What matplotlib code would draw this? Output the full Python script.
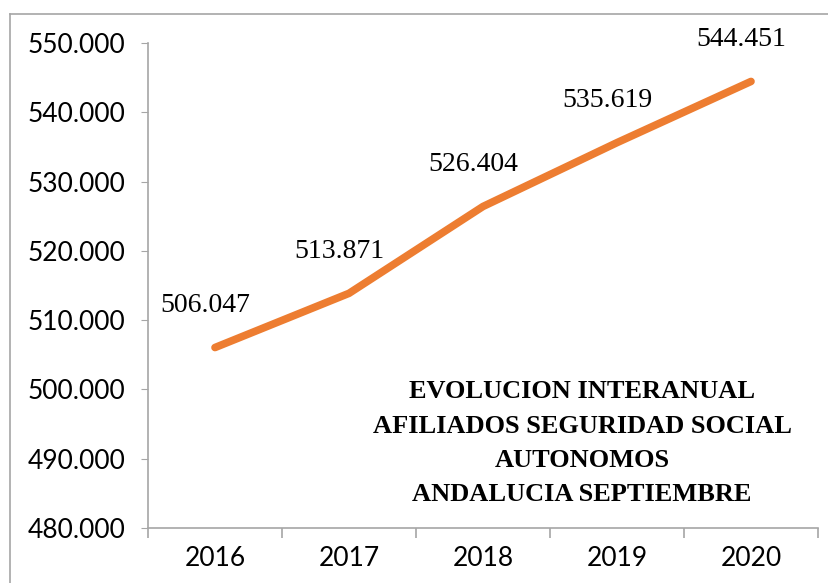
import matplotlib.pyplot as plt
from matplotlib.lines import Line2D
from matplotlib.ticker import FuncFormatter, FixedLocator

years = ['2016', '2017', '2018', '2019', '2020']
afiliados = [506047, 513871, 526404, 535619, 544451]

fig = plt.figure(figsize=(8.29, 5.83), dpi=100)
ax = fig.add_axes([148 / 829, 55 / 583, 670 / 829, 485 / 583])

x = list(range(len(years)))
ax.plot(x, afiliados, color='#ED7D31', lw=5.5, solid_capstyle='round')

# etiquetas de datos
for xi, v in zip(x, afiliados):
    txt = f'{v:,}'.replace(',', '.')
    ax.annotate(txt, (xi, v), xytext=(-7, 30), textcoords='offset points',
                ha='center', va='center', fontsize=20, family='Liberation Serif')

ax.set_xlim(-0.5, len(years) - 0.5)
ax.set_ylim(480000, 550000)
ax.set_yticks(range(480000, 550001, 10000))
ax.yaxis.set_major_formatter(FuncFormatter(lambda v, p: f'{int(v):,}'.replace(',', '.')))
ax.set_xticks(x)
ax.set_xticklabels(years)
ax.xaxis.set_minor_locator(FixedLocator([i - 0.5 for i in range(len(years) + 1)]))

for s in ['top', 'right']:
    ax.spines[s].set_visible(False)
for s in ['left', 'bottom']:
    ax.spines[s].set_color('#A6A6A6')
    ax.spines[s].set_linewidth(1.2)

ax.tick_params(axis='y', length=5, color='#A6A6A6', labelsize=19, pad=11)
ax.tick_params(axis='x', which='major', length=0, labelsize=19, pad=13)
ax.tick_params(axis='x', which='minor', length=7, color='#A6A6A6', width=1.2)
for lab in ax.get_xticklabels() + ax.get_yticklabels():
    lab.set_family('Lato')

ax.text(0.648, 0.175,
        'EVOLUCION INTERANUAL\nAFILIADOS SEGURIDAD SOCIAL\nAUTONOMOS\nANDALUCIA SEPTIEMBRE',
        transform=ax.transAxes, ha='center', va='center', fontsize=19,
        fontweight='bold', family='Liberation Serif', linespacing=1.62)

# borde del grafico
fig.add_artist(Line2D([10 / 829, 10 / 829], [0, 1 - 14 / 583], color='#A6A6A6', lw=1.2))
fig.add_artist(Line2D([10 / 829, 1], [1 - 14 / 583, 1 - 14 / 583], color='#A6A6A6', lw=1.2))

fig.savefig('out.png', dpi=100)
